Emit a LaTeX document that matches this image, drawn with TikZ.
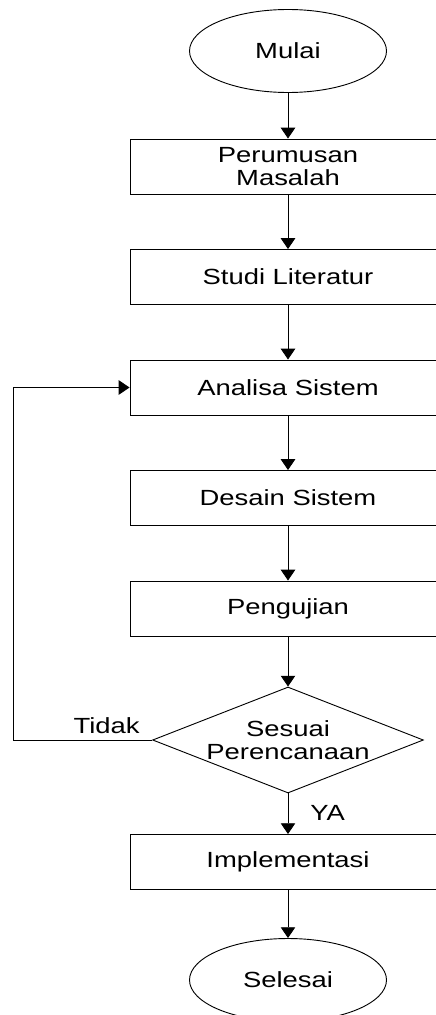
\documentclass[tikz,border=0pt]{standalone}
\usepackage{fontspec}
\setmainfont{Liberation Sans}[FakeStretch=1.25]
\usepackage{tikz}
\usetikzlibrary{shapes.geometric, arrows.meta, positioning}

\begin{document}
\begin{tikzpicture}[
  box/.style={draw, align=center, minimum width=7.9cm,
              minimum height=1.375cm, inner sep=0pt},
  terminal/.style={draw, ellipse, minimum width=4.925cm,
              minimum height=2.075cm, inner sep=0pt},
  decision/.style={draw, diamond, aspect=2.75, align=center, inner sep=0pt,
              minimum height=2.65cm},
  every node/.style={font=\fontsize{15.6}{16.4}\selectfont},
  every path/.style={line width=0.65pt},
  flow/.style={-{Triangle[length=0.27cm, width=0.36cm]}}
]
\useasboundingbox (0,0) rectangle (10.875,-25.375);
\node[terminal] (mulai)  at (7.2, -1.275)  {Mulai};
\node[box]      (rumus)  at (7.2, -4.1625) {Perumusan\\Masalah};
\node[box]      (studi)  at (7.2, -6.925)  {Studi Literatur};
\node[box]      (analisa) at (7.2, -9.6875) {Analisa Sistem};
\node[box]      (desain) at (7.2, -12.45)  {Desain Sistem};
\node[box]      (uji)    at (7.2, -15.2125) {Pengujian};
\node[decision] (sesuai) at (7.2, -18.5)   {Sesuai\\Perencanaan};
\node[box]      (impl)   at (7.2, -21.55)  {Implementasi};
\node[terminal] (selesai) at (7.2, -24.5)  {Selesai};
\coordinate (kiri) at (0.325, -18.5);
\node[anchor=south east, inner sep=0pt] (tidak) at (3.5, -18.36) {Tidak};
\node[anchor=west, inner sep=0pt] (ya) at (7.75, -20.325) {YA};
\draw[flow] (mulai)   -- (rumus);
\draw[flow] (rumus)   -- (studi);
\draw[flow] (studi)   -- (analisa);
\draw[flow] (analisa) -- (desain);
\draw[flow] (desain)  -- (uji);
\draw[flow] (uji)     -- (sesuai);
\draw[flow] (sesuai)  -- (impl);
\draw[flow] (impl)    -- (selesai);
\draw[flow] (sesuai.west) -- (kiri) |- (analisa.west);
\end{tikzpicture}
\end{document}
